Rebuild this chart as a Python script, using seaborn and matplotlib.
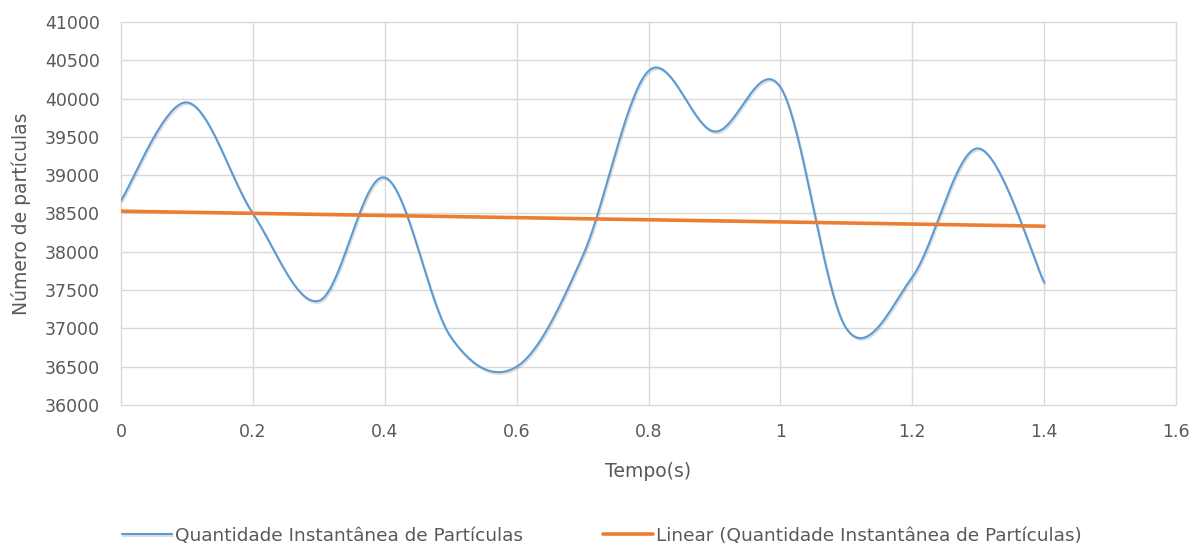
import numpy as np
import pandas as pd
import seaborn as sns
import matplotlib.pyplot as plt
from matplotlib import patheffects as pe

# Sampled particle count over time
tempo = [0.0, 0.1, 0.2, 0.3, 0.4, 0.5, 0.6, 0.7, 0.8, 0.9, 1.0, 1.1, 1.2, 1.3, 1.4]
particulas = [38670, 39950, 38500, 37360, 38970, 36890, 36500, 37940,
              40360, 39570, 40150, 37000, 37670, 39350, 37600]

x_ticks = [0, 0.2, 0.4, 0.6, 0.8, 1.0, 1.2, 1.4, 1.6]
x_tick_labels = ["0", "0.2", "0.4", "0.6", "0.8", "1", "1.2", "1.4", "1.6"]
y_ticks = list(range(36000, 41001, 500))

serie_nome = "Quantidade Instantânea de Partículas"
tendencia_nome = "Linear (Quantidade Instantânea de Partículas)"

BLUE = "#5B9BD5"
ORANGE = "#ED7D31"
GRID = "#D9D9D9"
TEXT = "#595959"


def smooth_curve(x, y, n=40):
    """Catmull-Rom style smoothing through every sample (spreadsheet 'smoothed line')."""
    x = np.asarray(x, float)
    y = np.asarray(y, float)
    px = np.concatenate([[x[0]], x, [x[-1]]])
    py = np.concatenate([[y[0]], y, [y[-1]]])
    xs, ys = [], []
    for i in range(1, len(px) - 2):
        p0x, p1x, p2x, p3x = px[i - 1], px[i], px[i + 1], px[i + 2]
        p0y, p1y, p2y, p3y = py[i - 1], py[i], py[i + 1], py[i + 2]
        c1x, c1y = p1x + (p2x - p0x) / 6, p1y + (p2y - p0y) / 6
        c2x, c2y = p2x - (p3x - p1x) / 6, p2y - (p3y - p1y) / 6
        t = np.linspace(0, 1, n, endpoint=(i == len(px) - 3))
        b0, b1, b2, b3 = (1 - t) ** 3, 3 * t * (1 - t) ** 2, 3 * t ** 2 * (1 - t), t ** 3
        xs.append(b0 * p1x + b1 * c1x + b2 * c2x + b3 * p2x)
        ys.append(b0 * p1y + b1 * c1y + b2 * c2y + b3 * p2y)
    return np.concatenate(xs), np.concatenate(ys)


sns.set_theme(style="white")
plt.rcParams["font.family"] = ["DejaVu Sans"]

fig = plt.figure(figsize=(11.92, 5.44), dpi=100)
ax = fig.add_axes([0.1015, 0.2555, 0.8851, 0.7041])

sx, sy = smooth_curve(tempo, particulas)
curve = pd.DataFrame({"Tempo": sx, "Particulas": sy})
sns.lineplot(data=curve, x="Tempo", y="Particulas", ax=ax, color=BLUE,
             linewidth=1.5, sort=False, estimator=None, label=serie_nome,
             path_effects=[pe.SimpleLineShadow(offset=(0.8, -1.2), alpha=0.15, shadow_color="k"),
                           pe.Normal()])

coef = np.polyfit(tempo, particulas, 1)
trend = pd.DataFrame({"Tempo": tempo, "Particulas": np.polyval(coef, tempo)})
sns.lineplot(data=trend, x="Tempo", y="Particulas", ax=ax, color=ORANGE,
             linewidth=2.6, estimator=None, label=tendencia_nome)

ax.set_xlim(0, 1.6)
ax.set_ylim(36000, 41000)
ax.set_xticks(x_ticks)
ax.set_xticklabels(x_tick_labels)
ax.set_yticks(y_ticks)
ax.grid(True, color=GRID, linewidth=1.0)
ax.set_axisbelow(True)
for gl in ax.get_xgridlines() + ax.get_ygridlines():
    gl.set_clip_on(False)
for s in ax.spines.values():
    s.set_visible(False)
ax.tick_params(axis="x", length=0, pad=13, labelsize=12.5, labelcolor=TEXT)
ax.tick_params(axis="y", length=0, pad=15, labelsize=12.5, labelcolor=TEXT)

ax.set_xlabel("Tempo(s)", fontsize=13.5, color=TEXT, labelpad=15)
ax.set_ylabel("Número de partículas", fontsize=13.5, color=TEXT, labelpad=10)

handles, labels = ax.get_legend_handles_labels()
ax.get_legend().remove()
fig.legend(handles, labels, loc="lower center", ncol=2, frameon=False,
           bbox_to_anchor=(0.505, -0.032), fontsize=13.3, labelcolor=TEXT,
           handlelength=2.7, handletextpad=0.2, columnspacing=4.3)

fig.savefig("out.png", dpi=100)
